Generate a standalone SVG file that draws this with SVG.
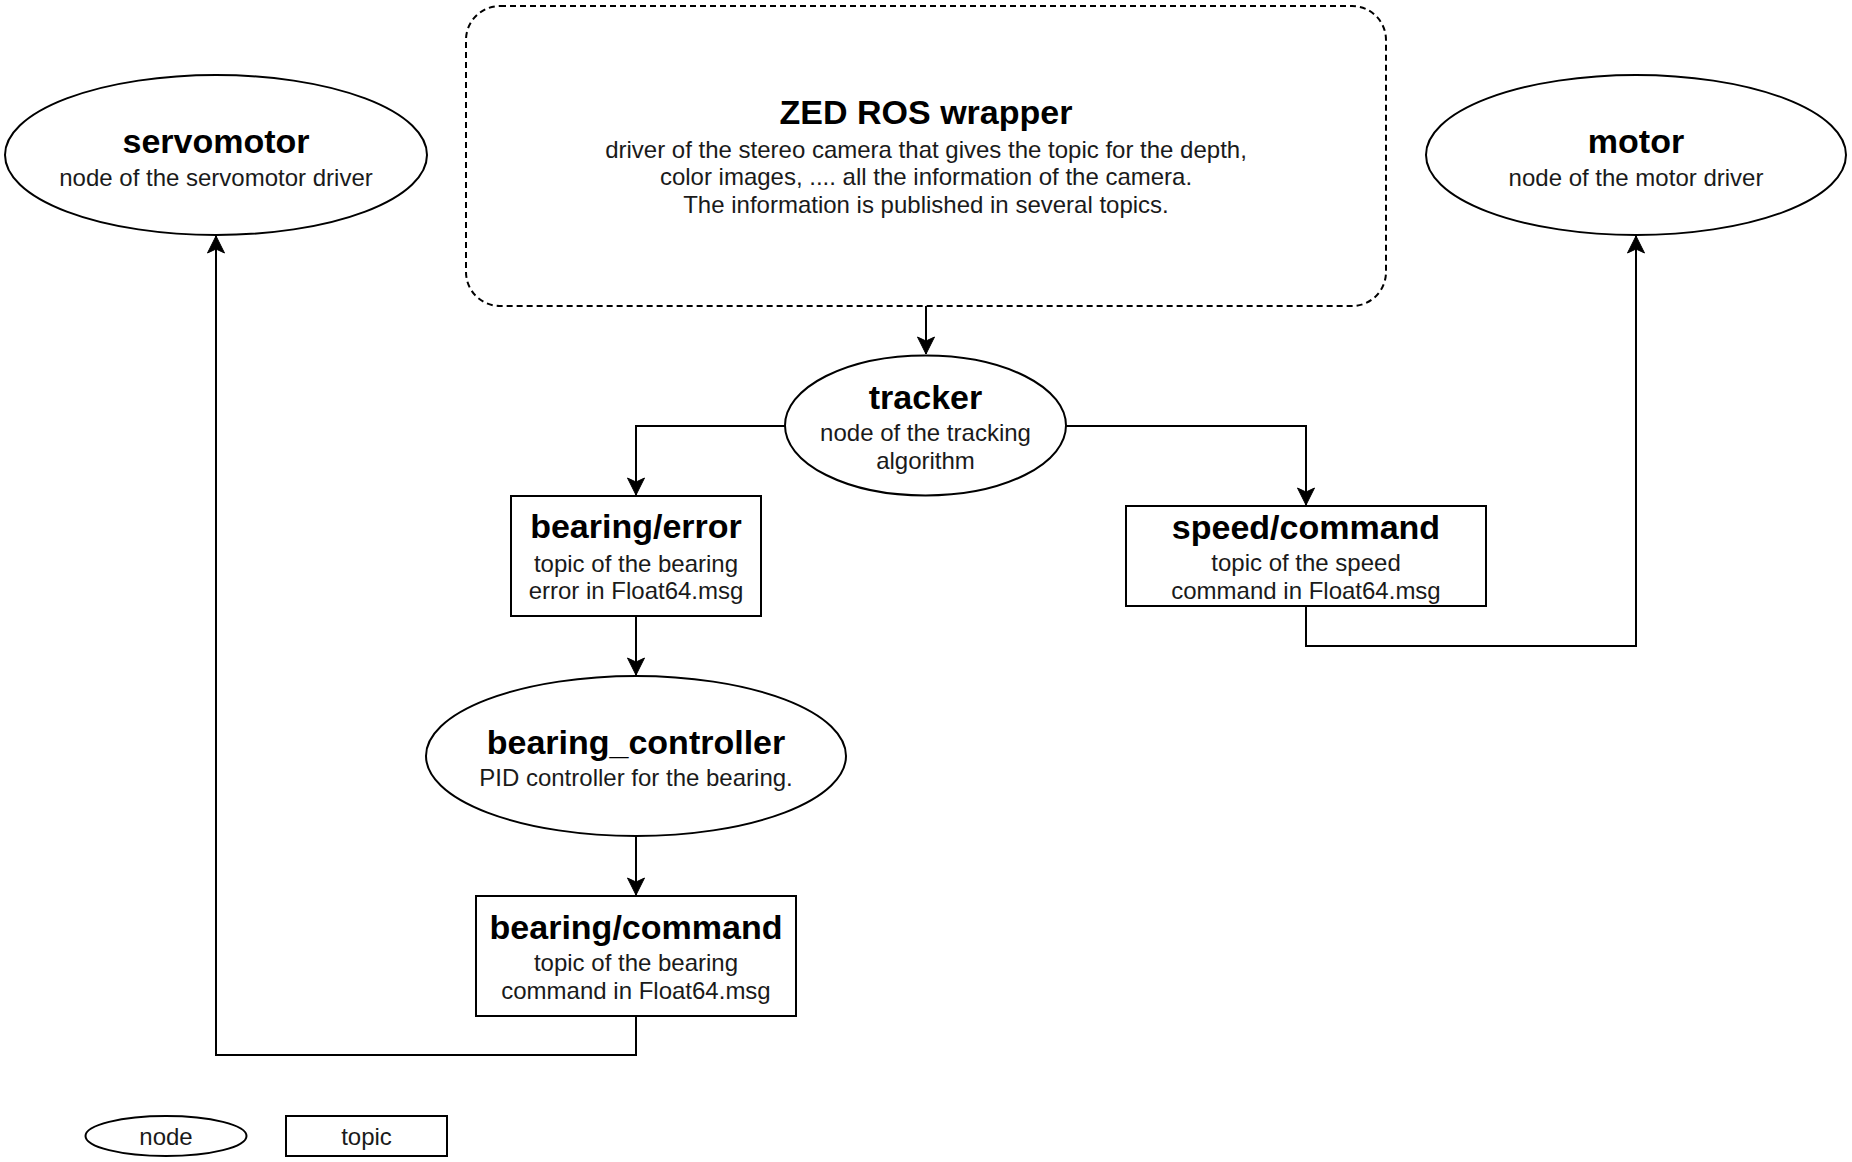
<svg xmlns="http://www.w3.org/2000/svg" width="1852" height="1162" viewBox="0 0 1852 1162">
<style>
  .shape { fill: #ffffff; stroke: #000000; stroke-width: 2; }
  .dashed { stroke-dasharray: 6 4; }
  .title { font-family: "Liberation Sans", Arial, Helvetica, sans-serif; font-weight: bold; font-size: 34px; fill: #000000; text-anchor: middle; }
  .body { font-family: "Liberation Sans", Arial, Helvetica, sans-serif; font-size: 24px; fill: #1a1a1a; text-anchor: middle; }
  .edge { fill: none; stroke: #000000; stroke-width: 2; marker-end: url(#arrow); }
</style>
<defs>
  <marker id="arrow" markerUnits="userSpaceOnUse" markerWidth="22" markerHeight="22" viewBox="-20 -11 22 22" refX="0" refY="0" orient="auto">
    <path d="M0,0 L-17,-8.5 L-13,0 L-17,8.5 Z" fill="#000000" stroke="#000000" stroke-width="1"/>
  </marker>
</defs>
<rect width="1852" height="1162" fill="#ffffff"/>

<g id="connectors">
  <path class="edge" d="M926,306 L926,354"/>
  <path class="edge" d="M785,426 L636,426 L636,495"/>
  <path class="edge" d="M1066,426 L1306,426 L1306,505"/>
  <path class="edge" d="M636,616 L636,675"/>
  <path class="edge" d="M636,836 L636,895"/>
  <path class="edge" d="M636,1016 L636,1055 L216,1055 L216,236"/>
  <path class="edge" d="M1306,606 L1306,646 L1636,646 L1636,236"/>
</g>

<g id="zed">
  <rect class="shape dashed" x="466" y="6" width="920" height="300" rx="34" ry="34"/>
  <text class="title" x="926" y="124">ZED ROS wrapper</text>
  <text class="body" x="926" y="157.5">driver of the stereo camera that gives the topic for the depth,</text>
  <text class="body" x="926" y="185">color images, .... all the information of the camera.</text>
  <text class="body" x="926" y="212.5">The information is published in several topics.</text>
</g>

<g id="servomotor">
  <ellipse class="shape" cx="216" cy="155" rx="211" ry="80"/>
  <text class="title" x="216" y="152.5">servomotor</text>
  <text class="body" x="216" y="186">node of the servomotor driver</text>
</g>

<g id="motor">
  <ellipse class="shape" cx="1636" cy="155" rx="210" ry="80"/>
  <text class="title" x="1636" y="152.5">motor</text>
  <text class="body" x="1636" y="186">node of the motor driver</text>
</g>

<g id="tracker">
  <ellipse class="shape" cx="925.5" cy="425.5" rx="140.5" ry="70"/>
  <text class="title" x="925.5" y="409">tracker</text>
  <text class="body" x="925.5" y="441">node of the tracking</text>
  <text class="body" x="925.5" y="469">algorithm</text>
</g>

<g id="bearing_error">
  <rect class="shape" x="511" y="496" width="250" height="120"/>
  <text class="title" x="636" y="538">bearing/error</text>
  <text class="body" x="636" y="572">topic of the bearing</text>
  <text class="body" x="636" y="599">error in Float64.msg</text>
</g>

<g id="speed_command">
  <rect class="shape" x="1126" y="506" width="360" height="100"/>
  <text class="title" x="1306" y="538.5">speed/command</text>
  <text class="body" x="1306" y="571">topic of the speed</text>
  <text class="body" x="1306" y="599">command in Float64.msg</text>
</g>

<g id="bearing_controller">
  <ellipse class="shape" cx="636" cy="756" rx="210" ry="80"/>
  <text class="title" x="636" y="753.5">bearing_controller</text>
  <text class="body" x="636" y="786">PID controller for the bearing.</text>
</g>

<g id="bearing_command">
  <rect class="shape" x="476" y="896" width="320" height="120"/>
  <text class="title" x="636" y="938.5">bearing/command</text>
  <text class="body" x="636" y="971">topic of the bearing</text>
  <text class="body" x="636" y="999">command in Float64.msg</text>
</g>

<g id="legend_node">
  <ellipse class="shape" cx="166" cy="1136" rx="80.5" ry="20"/>
  <text class="body" x="166" y="1144.5">node</text>
</g>

<g id="legend_topic">
  <rect class="shape" x="286" y="1116" width="161" height="40"/>
  <text class="body" x="366.5" y="1144.5">topic</text>
</g>
</svg>
